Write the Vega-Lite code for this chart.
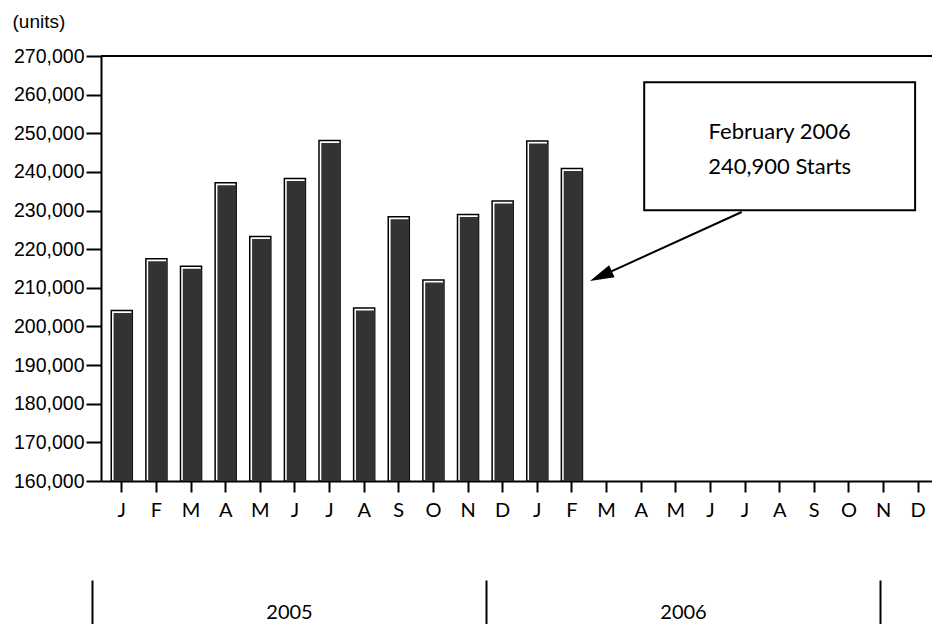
{
  "$schema": "https://vega.github.io/schema/vega-lite/v6.json",
  "width": 831,
  "height": 425,
  "autosize": "none",
  "padding": {"left": 101, "top": 56, "right": 0, "bottom": 143},
  "background": "white",
  "config": {"view": {"stroke": null}, "axis": {"grid": false}},
  "datasets": {
    "starts": [
      {"month": "2005-01", "year": "2005", "starts": 204100},
      {"month": "2005-02", "year": "2005", "starts": 217500},
      {"month": "2005-03", "year": "2005", "starts": 215600},
      {"month": "2005-04", "year": "2005", "starts": 237200},
      {"month": "2005-05", "year": "2005", "starts": 223300},
      {"month": "2005-06", "year": "2005", "starts": 238300},
      {"month": "2005-07", "year": "2005", "starts": 248100},
      {"month": "2005-08", "year": "2005", "starts": 204800},
      {"month": "2005-09", "year": "2005", "starts": 228400},
      {"month": "2005-10", "year": "2005", "starts": 212000},
      {"month": "2005-11", "year": "2005", "starts": 229000},
      {"month": "2005-12", "year": "2005", "starts": 232500},
      {"month": "2006-01", "year": "2006", "starts": 248000},
      {"month": "2006-02", "year": "2006", "starts": 240900}
    ]
  },
  "layer": [
    {
      "layer": [
        {
          "data": {"name": "starts"},
          "mark": {"type": "bar", "fill": "white", "stroke": "black", "strokeWidth": 1.5, "width": {"band": 0.76}},
          "encoding": {
            "x": {
              "field": "month",
              "type": "ordinal",
              "scale": {
                "domain": ["2005-01","2005-02","2005-03","2005-04","2005-05","2005-06","2005-07","2005-08","2005-09","2005-10","2005-11","2005-12","2006-01","2006-02","2006-03","2006-04","2006-05","2006-06","2006-07","2006-08","2006-09","2006-10","2006-11","2006-12"],
                "paddingInner": 0.2,
                "paddingOuter": 0.1,
                "align": 1,
                "round": false
              },
              "axis": {
                "orient": "bottom",
                "title": null,
                "labelAngle": 0,
                "labelOverlap": false,
                "labelExpr": "substring('JFMAMJJASOND', toNumber(substring(datum.value, 5, 7)) - 1, toNumber(substring(datum.value, 5, 7)))",
                "labelFont": "Lato",
                "labelFontSize": 20,
                "labelColor": "black",
                "labelPadding": 8,
                "domainColor": "black",
                "domainWidth": 2,
                "tickColor": "black",
                "tickWidth": 2,
                "tickSize": 11
              }
            },
            "y": {
              "field": "starts",
              "type": "quantitative",
              "scale": {"domain": [160000, 270000], "zero": false, "nice": false},
              "axis": {
                "tickCount": 11,
                "tickMinStep": 10000,
                "format": ",d",
                "labelOverlap": false,
                "labelFlush": false,
                "labelSeparation": 0,
                "title": "(units)",
                "titleAngle": 0,
                "titleAlign": "left",
                "titleBaseline": "alphabetic",
                "titleX": -89,
                "titleY": -29,
                "titleFont": "Liberation Sans",
                "titleFontSize": 19,
                "titleFontWeight": "normal",
                "titleColor": "black",
                "labelFont": "Liberation Sans",
                "labelFontSize": 19.5,
                "labelColor": "black",
                "labelPadding": 2,
                "tickSize": 15,
                "tickWidth": 2,
                "tickColor": "black",
                "domainColor": "black",
                "domainWidth": 2
              }
            },
            "y2": {"datum": 160000}
          }
        },
        {
          "data": {"name": "starts"},
          "mark": {"type": "bar", "fill": "#333333", "width": {"band": 0.68}, "xOffset": 1.2, "yOffset": 2.5},
          "encoding": {
            "x": {"field": "month", "type": "ordinal"},
            "y": {"field": "starts", "type": "quantitative"},
            "y2": {"datum": 160000}
          }
        },
        {
          "data": {"values": [{}]},
          "mark": {"type": "rule", "color": "black", "strokeWidth": 2},
          "encoding": {"y": {"datum": 270000}}
        },
        {
          "data": {"values": [{}]},
          "mark": {"type": "rect", "fill": "white", "stroke": "black", "strokeWidth": 2},
          "encoding": {
            "x": {"datum": "2006-04", "bandPosition": 0.61},
            "x2": {"datum": "2006-12", "bandPosition": 0.39},
            "y": {"datum": 263200},
            "y2": {"datum": 230100}
          }
        },
        {
          "data": {"values": [{"line": "February 2006"}]},
          "mark": {"type": "text", "font": "Lato", "fontSize": 22, "color": "black", "align": "center", "baseline": "alphabetic"},
          "encoding": {
            "x": {"datum": "2006-08"},
            "y": {"datum": 248430},
            "text": {"field": "line"}
          }
        },
        {
          "data": {"values": [{"line": "240,900 Starts"}]},
          "mark": {"type": "text", "font": "Lato", "fontSize": 22, "color": "black", "align": "center", "baseline": "alphabetic"},
          "encoding": {
            "x": {"datum": "2006-08"},
            "y": {"datum": 239450},
            "text": {"field": "line"}
          }
        },
        {
          "data": {"values": [{}]},
          "mark": {"type": "rule", "color": "black", "strokeWidth": 2, "xOffset": -3.3, "x2Offset": -5.6},
          "encoding": {
            "x": {"datum": "2006-07"},
            "x2": {"datum": "2006-03"},
            "y": {"datum": 229620},
            "y2": {"datum": 213030}
          }
        },
        {
          "data": {"values": [{}]},
          "mark": {"type": "point", "shape": "M0,-1L0.55,1L-0.55,1Z", "filled": true, "color": "black", "opacity": 1, "size": 576, "angle": 245.5, "xOffset": -5.6},
          "encoding": {
            "x": {"datum": "2006-03"},
            "y": {"datum": 213030}
          }
        }
      ]
    },
    {
      "data": {"name": "starts"},
      "mark": {"type": "tick", "opacity": 0},
      "encoding": {
        "x": {
          "field": "year",
          "type": "ordinal",
          "scale": {"domain": ["2005", "2006"], "range": [-9, 779], "paddingInner": 0, "paddingOuter": 0},
          "axis": {
            "orient": "bottom",
            "offset": 99,
            "title": null,
            "domain": false,
            "tickBand": "extent",
            "tickSize": 50,
            "tickWidth": 2,
            "tickColor": "black",
            "labelAngle": 0,
            "labelPadding": -28,
            "labelFont": "Lato",
            "labelFontSize": 20,
            "labelColor": "black"
          }
        }
      }
    }
  ],
  "resolve": {"scale": {"x": "independent"}}
}
